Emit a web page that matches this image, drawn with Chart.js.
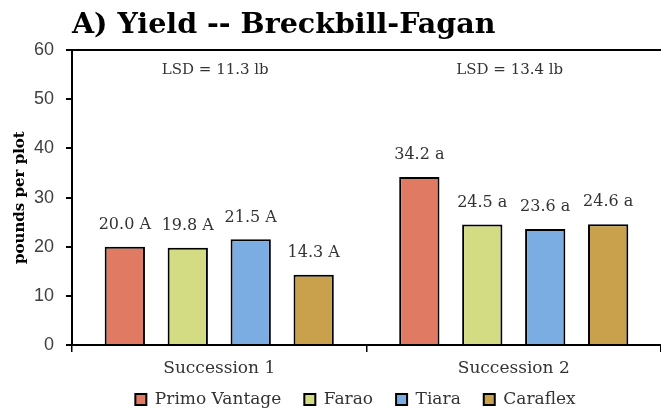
<!doctype html>
<html lang="en">
  <head>
    <meta charset="utf-8">
    <title>Yield -- Breckbill-Fagan</title>
    <style>
      * { margin: 0; padding: 0; }
      body { background: #ffffff; }
      .chartBox { width: 661px; height: 413px; }
    </style>
  </head>
  <body>
    <div class="chartBox">
      <canvas id="myChart"></canvas>
    </div>
    <script src="https://cdn.jsdelivr.net/npm/chart.js"></script>
    <script>
    // data
    const successions = ['Succession 1', 'Succession 2'];
    const varieties = ['Primo Vantage', 'Farao', 'Tiara', 'Caraflex'];
    const primoVantage = [20.0, 34.2];
    const farao = [19.8, 24.5];
    const tiara = [21.5, 23.6];
    const caraflex = [14.3, 24.6];
    const letters = ['A', 'a'];           // mean separation letter per succession
    const lsdValues = [11.3, 13.4];       // LSD per succession
    const yTicks = [0, 10, 20, 30, 40, 50, 60];

    const colors = ['#E07A62', '#D3DC83', '#7BADE2', '#C9A04B'];
    const serif = 'DejaVu Serif';

    // labels above bars + LSD text
    const labelPlugin = {
      id: 'labelPlugin',
      afterLayout(chart) {
        // legend sits closer to the axis and a bit left, like the original
        const lg = chart.legend;
        lg.top -= 20;
        lg.bottom -= 20;
        lg.left -= 22;
      },
      afterDatasetsDraw(chart) {
        const ctx = chart.ctx;
        ctx.save();
        ctx.fillStyle = '#333333';
        ctx.textAlign = 'center';
        ctx.textBaseline = 'middle';
        ctx.font = '16px "' + serif + '"';
        chart.data.datasets.forEach((ds, i) => {
          const meta = chart.getDatasetMeta(i);
          meta.data.forEach((bar, j) => {
            ctx.fillText(ds.data[j].toFixed(1) + ' ' + letters[j], bar.x, bar.y - 22);
          });
        });
        const x = chart.scales.x, y = chart.scales.y;
        ctx.font = '15px "' + serif + '"';
        lsdValues.forEach((v, j) => {
          ctx.fillText('LSD = ' + v + ' lb', x.getPixelForValue(j) - 4, y.getPixelForValue(56));
        });
        ctx.restore();
      }
    };

    const data = {
      labels: successions,
      datasets: [primoVantage, farao, tiara, caraflex].map((vals, i) => ({
        label: varieties[i],
        data: vals,
        backgroundColor: colors[i],
        borderColor: '#000000',
        borderWidth: 2,
        categoryPercentage: 0.855,
        barPercentage: 0.64
      }))
    };

    const config = {
      type: 'bar',
      data,
      options: {
        responsive: true,
        maintainAspectRatio: false,
        animation: false,
        layout: { padding: { left: 0, right: 0, top: 0, bottom: -25 } },
        scales: {
          x: {
            afterFit(scale) { scale.height = 43; },
            grid: {
              drawOnChartArea: false,
              color: '#000000',
              tickLength: 7,
              lineWidth: 1.5
            },
            border: { color: '#000000', width: 2 },
            ticks: {
              color: '#333333',
              padding: 6,
              font: { family: serif, size: 17 }
            }
          },
          y: {
            min: 0,
            max: 60,
            afterBuildTicks(scale) {
              scale.ticks = yTicks.map(v => ({ value: v }));
            },
            afterFit(scale) { scale.width = 72; },
            grid: {
              color: ctx => (ctx.tick && ctx.tick.value === 60) ? '#000000' : 'rgba(0,0,0,0)',
              tickColor: '#000000',
              tickLength: 6,
              lineWidth: 2
            },
            border: { color: '#000000', width: 2 },
            ticks: {
              color: '#404040',
              padding: 12,
              font: { family: 'Liberation Sans', size: 18 }
            },
            title: {
              display: true,
              text: 'pounds per plot',
              color: '#000000',
              padding: { top: 11, bottom: 0 },
              font: { family: serif, size: 15, weight: 'bold' }
            }
          }
        },
        plugins: {
          title: {
            display: true,
            text: 'A) Yield -- Breckbill-Fagan',
            align: 'start',
            fullSize: false,
            color: '#000000',
            padding: { top: 8, bottom: 8 },
            font: { family: serif, size: 28.5, weight: 'bold' }
          },
          legend: {
            position: 'bottom',
            fullSize: false,
            labels: {
              color: '#333333',
              boxWidth: 11,
              boxHeight: 11,
              padding: 23,
              font: { family: serif, size: 17 }
            }
          },
          tooltip: { enabled: false }
        }
      },
      plugins: [labelPlugin]
    };

    const myChart = new Chart(document.getElementById('myChart'), config);
    </script>
  </body>
</html>
